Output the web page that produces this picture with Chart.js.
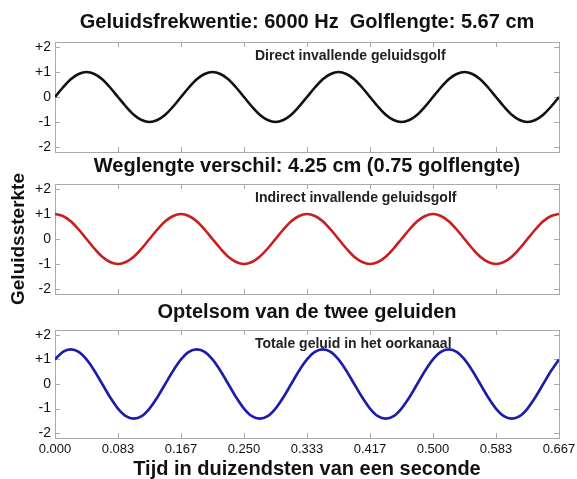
<!DOCTYPE html>
<html>
<head>
<meta charset="utf-8">
<script src="https://cdn.jsdelivr.net/npm/chart.js@4.4.1/dist/chart.umd.min.js"></script>
<style>
  body { margin: 0; background: #fff; width: 577px; height: 479px; position: relative; overflow: hidden; }
  canvas { position: absolute; left: 0; }
</style>
</head>
<body>
<canvas id="direct" width="577" height="154" style="top:0"></canvas>
<canvas id="indirect" width="577" height="165" style="top:154px"></canvas>
<canvas id="total" width="577" height="179" style="top:300px"></canvas>
<script>
// time in ms, sampled every 1/16 of a period (6000 Hz -> 0.1667 ms)
const times = [
  0.0000, 0.0104, 0.0208, 0.0313, 0.0417, 0.0521, 0.0625, 0.0729,
  0.0833, 0.0938, 0.1042, 0.1146, 0.1250, 0.1354, 0.1458, 0.1563,
  0.1667, 0.1771, 0.1875, 0.1979, 0.2083, 0.2188, 0.2292, 0.2396,
  0.2500, 0.2604, 0.2708, 0.2813, 0.2917, 0.3021, 0.3125, 0.3229,
  0.3333, 0.3438, 0.3542, 0.3646, 0.3750, 0.3854, 0.3958, 0.4063,
  0.4167, 0.4271, 0.4375, 0.4479, 0.4583, 0.4688, 0.4792, 0.4896,
  0.5000, 0.5104, 0.5208, 0.5313, 0.5417, 0.5521, 0.5625, 0.5729,
  0.5833, 0.5938, 0.6042, 0.6146, 0.6250, 0.6354, 0.6458, 0.6563,
  0.6667
];

const directWave = [
  0, 0.38, 0.71, 0.92, 1, 0.92, 0.71, 0.38, 0, -0.38, -0.71, -0.92, -1, -0.92, -0.71, -0.38,
  0, 0.38, 0.71, 0.92, 1, 0.92, 0.71, 0.38, 0, -0.38, -0.71, -0.92, -1, -0.92, -0.71, -0.38,
  0, 0.38, 0.71, 0.92, 1, 0.92, 0.71, 0.38, 0, -0.38, -0.71, -0.92, -1, -0.92, -0.71, -0.38,
  0, 0.38, 0.71, 0.92, 1, 0.92, 0.71, 0.38, 0, -0.38, -0.71, -0.92, -1, -0.92, -0.71, -0.38,
  0
];

const indirectWave = [
  1, 0.92, 0.71, 0.38, 0, -0.38, -0.71, -0.92, -1, -0.92, -0.71, -0.38, 0, 0.38, 0.71, 0.92,
  1, 0.92, 0.71, 0.38, 0, -0.38, -0.71, -0.92, -1, -0.92, -0.71, -0.38, 0, 0.38, 0.71, 0.92,
  1, 0.92, 0.71, 0.38, 0, -0.38, -0.71, -0.92, -1, -0.92, -0.71, -0.38, 0, 0.38, 0.71, 0.92,
  1, 0.92, 0.71, 0.38, 0, -0.38, -0.71, -0.92, -1, -0.92, -0.71, -0.38, 0, 0.38, 0.71, 0.92,
  1
];

const totalWave = [
  1, 1.31, 1.41, 1.31, 1, 0.54, 0, -0.54, -1, -1.31, -1.41, -1.31, -1, -0.54, 0, 0.54,
  1, 1.31, 1.41, 1.31, 1, 0.54, 0, -0.54, -1, -1.31, -1.41, -1.31, -1, -0.54, 0, 0.54,
  1, 1.31, 1.41, 1.31, 1, 0.54, 0, -0.54, -1, -1.31, -1.41, -1.31, -1, -0.54, 0, 0.54,
  1, 1.31, 1.41, 1.31, 1, 0.54, 0, -0.54, -1, -1.31, -1.41, -1.31, -1, -0.54, 0, 0.54,
  1
];

const xTickValues = [0, 0.0833, 0.1667, 0.25, 0.3333, 0.4167, 0.5, 0.5833, 0.6667];
const xTickLabels = ["0.000", "0.083", "0.167", "0.250", "0.333", "0.417", "0.500", "0.583", "0.667"];
const yTickValues = [-2, -1, 0, 1, 2];
const yTickLabels = ["-2", "-1", "0", "+1", "+2"];

const FONT = "'Liberation Sans', Arial, sans-serif";

// grey box round the plot with short inward ticks on all four sides
const frameTicks = {
  id: "frameTicks",
  beforeDatasetsDraw(chart) {
    const { ctx, chartArea: a, scales: { x, y } } = chart;
    ctx.save();
    ctx.strokeStyle = "#a9a9a9";
    ctx.lineWidth = 1;
    ctx.beginPath();
    x.ticks.forEach(t => {
      const px = Math.round(x.getPixelForValue(t.value)) + 0.5;
      ctx.moveTo(px, a.bottom); ctx.lineTo(px, a.bottom - 5);
      ctx.moveTo(px, a.top); ctx.lineTo(px, a.top + 5);
    });
    y.ticks.forEach(t => {
      const py = Math.round(y.getPixelForValue(t.value)) + 0.5;
      ctx.moveTo(a.left, py); ctx.lineTo(a.left + 5, py);
      ctx.moveTo(a.right, py); ctx.lineTo(a.right - 5, py);
    });
    ctx.stroke();
    ctx.strokeRect(Math.round(a.left) + 0.5, Math.round(a.top) + 0.5, Math.round(a.width), Math.round(a.height));
    ctx.restore();
  }
};

// label written inside the plot
const note = {
  id: "note",
  afterDatasetsDraw(chart, args, opts) {
    if (!opts.text) return;
    const { ctx, chartArea: a } = chart;
    ctx.save();
    ctx.font = "bold 14px " + FONT;
    ctx.fillStyle = "#222";
    ctx.textBaseline = "middle";
    ctx.fillText(opts.text, a.left + opts.dx, a.top + opts.dy);
    ctx.restore();
  }
};

function makePanel(id, cfg) {
  new Chart(document.getElementById(id), {
    type: "line",
    data: {
      datasets: [{
        data: times.map((t, i) => ({ x: t, y: cfg.values[i] })),
        borderColor: cfg.color,
        borderWidth: 2.6,
        pointRadius: 0,
        cubicInterpolationMode: "monotone",
        fill: false
      }]
    },
    options: {
      responsive: false,
      animation: false,
      events: [],
      layout: { padding: { left: 0, right: 18, top: 0, bottom: cfg.bottomPad } },
      plugins: {
        legend: { display: false },
        tooltip: { enabled: false },
        title: {
          display: true,
          text: cfg.title,
          fullSize: false,
          color: "#111",
          font: { family: FONT, size: 20, weight: "bold" },
          padding: cfg.titlePad
        },
        note: { text: cfg.note, dx: 200, dy: 14 }
      },
      scales: {
        x: {
          type: "linear",
          min: 0,
          max: 0.6667,
          grid: { display: false, drawTicks: false },
          border: { display: false },
          afterBuildTicks: s => { s.ticks = xTickValues.map(v => ({ value: v })); },
          afterFit: s => {
            s.height = cfg.showX ? 41 : 0;
            s.paddingLeft = 0; s.paddingRight = 0;
          },
          ticks: {
            display: cfg.showX,
            padding: 4,
            color: "#111",
            font: { family: FONT, size: 13 },
            maxRotation: 0,
            autoSkip: false,
            callback: (v, i) => xTickLabels[i]
          },
          title: {
            display: cfg.showX,
            text: "Tijd in duizendsten van een seconde",
            color: "#111",
            font: { family: FONT, size: 20, weight: "bold", lineHeight: 1 },
            padding: { top: 0, bottom: 0 }
          }
        },
        y: {
          min: -2.2,
          max: 2.2,
          grid: { display: false, drawTicks: false },
          border: { display: false },
          afterBuildTicks: s => { s.ticks = yTickValues.map(v => ({ value: v })); },
          afterFit: s => {
            s.width = 55;
            s.paddingTop = 0; s.paddingBottom = 0;
          },
          ticks: {
            padding: 4,
            color: "#111",
            font: { family: FONT, size: 14 },
            callback: (v, i) => yTickLabels[i]
          },
          title: {
            display: cfg.showY,
            text: "Geluidssterkte",
            color: "#111",
            font: { family: FONT, size: 19, weight: "bold" },
            padding: { top: 7, bottom: 0 }
          }
        }
      }
    },
    plugins: [frameTicks, note]
  });
}

makePanel("direct", {
  title: "Geluidsfrekwentie: 6000 Hz  Golflengte: 5.67 cm",
  note: "Direct invallende geluidsgolf",
  values: directWave, color: "#111111",
  titlePad: { top: 10, bottom: 8 }, bottomPad: 2, showX: false, showY: false
});
makePanel("indirect", {
  title: "Weglengte verschil: 4.25 cm (0.75 golflengte)",
  note: "Indirect invallende geluidsgolf",
  values: indirectWave, color: "#c81e1e",
  titlePad: { top: 0, bottom: 6 }, bottomPad: 25, showX: false, showY: true
});
makePanel("total", {
  title: "Optelsom van de twee geluiden",
  note: "Totale geluid in het oorkanaal",
  values: totalWave, color: "#1c1ca8",
  titlePad: { top: 0, bottom: 6 }, bottomPad: 0, showX: true, showY: false
});
</script>
</body>
</html>
